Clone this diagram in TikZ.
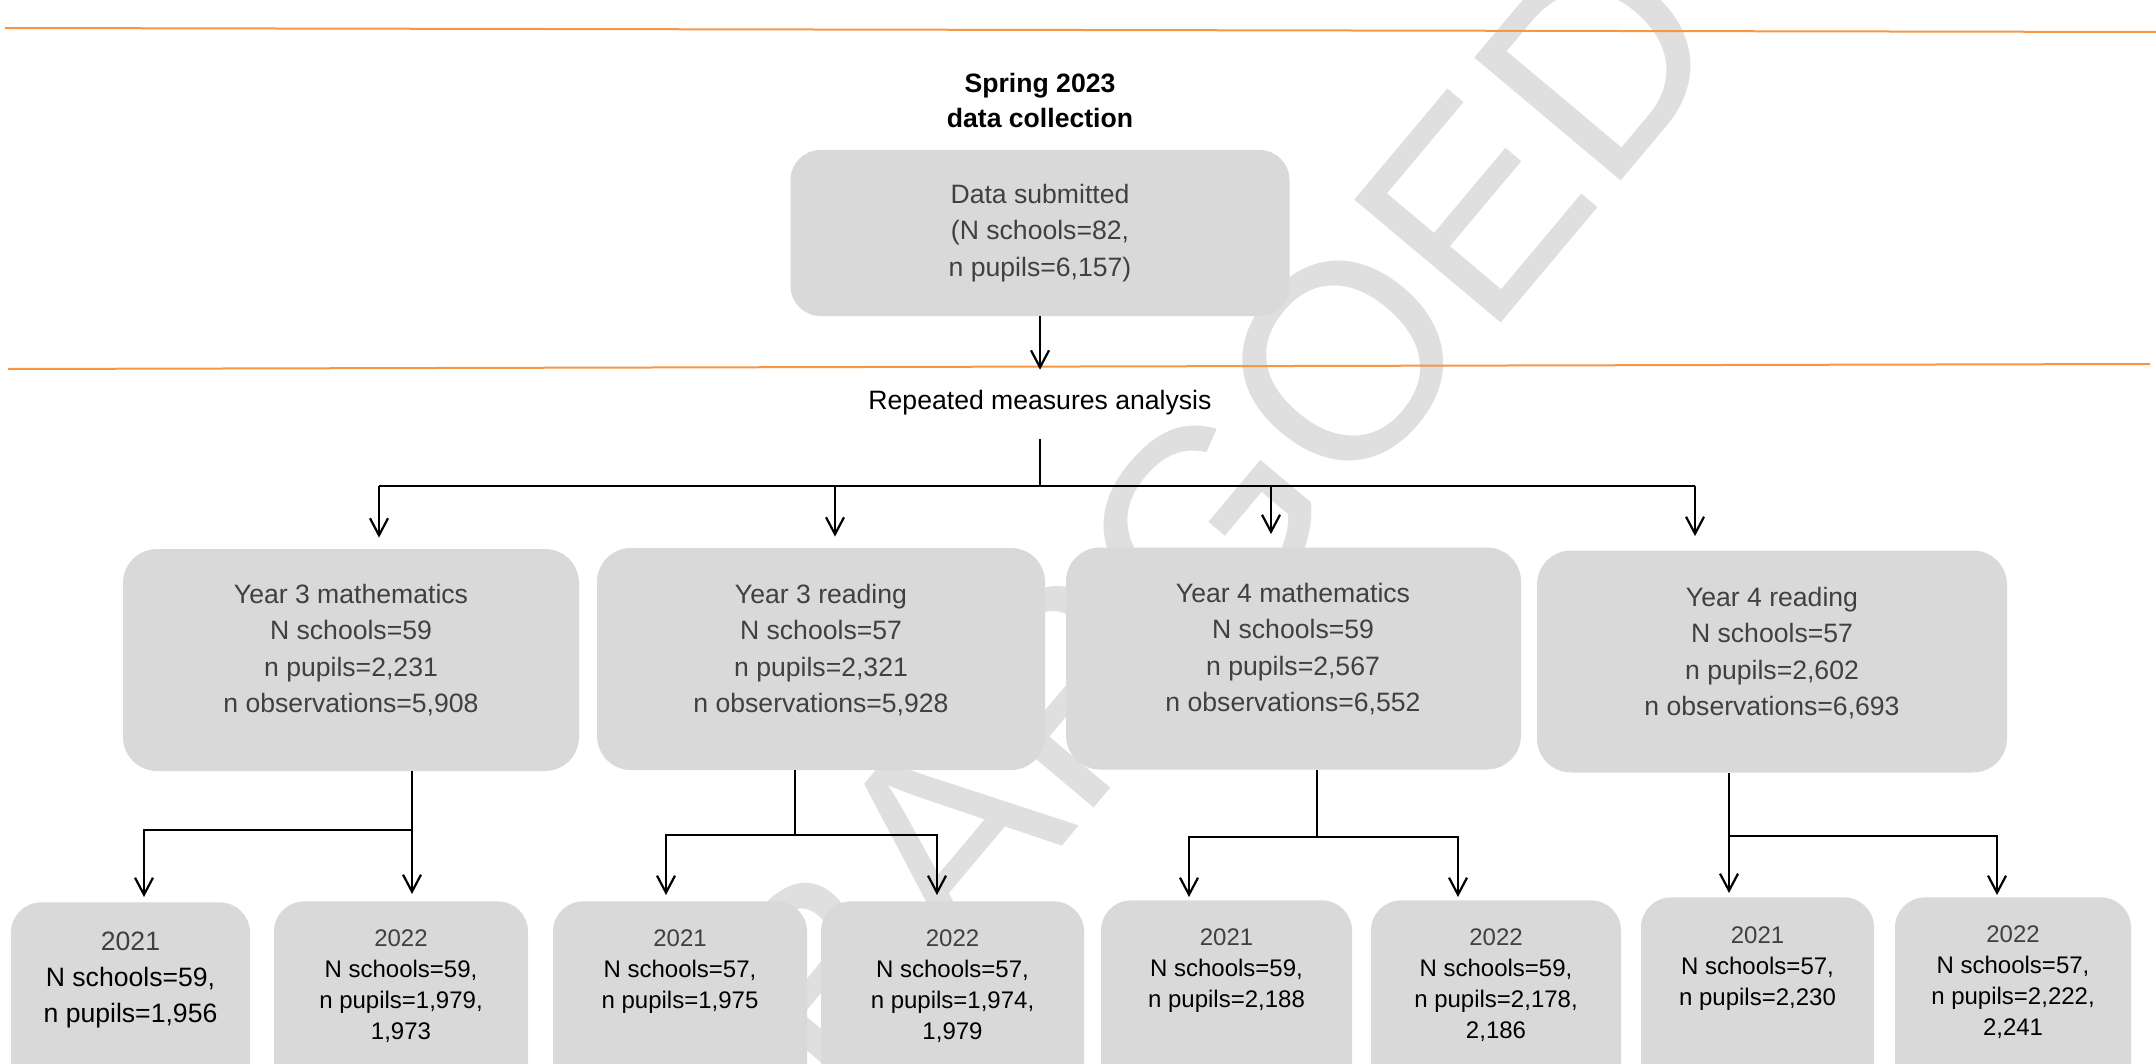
\documentclass[tikz,border=0pt]{standalone}
\usepackage{fontspec}
\setmainfont{Liberation Sans}
\usetikzlibrary{arrows.meta}

\definecolor{caixa}{rgb}{0.851,0.851,0.851}
\definecolor{cinzaTexto}{rgb}{0.251,0.251,0.251}
\definecolor{laranja}{rgb}{0.969,0.588,0.275}
\definecolor{marcaAgua}{rgb}{0.875,0.875,0.875}

\begin{document}
\begin{tikzpicture}[
        x=0.5pt, y=-0.5pt,
        boxMain/.style={rectangle, rounded corners=15pt, fill=caixa, inner sep=0pt},
        boxYear/.style={boxMain, rounded corners=17pt, minimum height=111pt},
        boxSmall/.style={boxMain, anchor=north, minimum height=100pt},
        txtMain/.style={inner sep=0pt, align=center, font=\fontsize{13.3}{18.3}\selectfont},
        txtSmall/.style={inner sep=0pt, align=center, anchor=north, font=\fontsize{12}{15.5}\selectfont},
        lineLink/.style={draw, line width=1.1pt},
        arrowDown/.style={lineLink, -{Straight Barb[length=8.5pt, width=9pt]}},
        ruleOrange/.style={draw=laranja, line width=1pt}
        ]
        \useasboundingbox (0,0) rectangle (2156,1064);
        \clip (0,0) rectangle (2156,1064);

        \node[text=marcaAgua, rotate=50, inner sep=0pt, font=\fontsize{139}{139}\selectfont] (marca) at (1081,675) {EMBARGOED}; % marca de agua

        \draw[ruleOrange] (5,28) -- (2156,32);
        \draw[ruleOrange] (8,369) -- (2150,364);

        \node[txtMain, font=\bfseries\fontsize{13.3}{17.5}\selectfont] (titulo) at (1040,100) {Spring 2023\\data collection};
        \node[boxMain, txtMain, text=cinzaTexto, minimum width=249.5pt, minimum height=83pt] (sub) at (1040,233) {Data submitted\\(N schools=82,\\n pupils=6,157)};
        \node[txtMain] (rma) at (1040,403) {Repeated measures analysis};

        % caixas do ano
        \node[boxYear, minimum width=228pt] (y3m) at (351,660) {};
        \node[boxYear, minimum width=224pt] (y3r) at (821,659) {};
        \node[boxYear, minimum width=227.5pt] (y4m) at (1293.5,658.5) {};
        \node[boxYear, minimum width=235pt] (y4r) at (1772,661.5) {};
        \node[txtMain, text=cinzaTexto] (y3mT) at (351,650) {Year 3 mathematics\\N schools=59\\n pupils=2,231\\n observations=5,908};
        \node[txtMain, text=cinzaTexto] (y3rT) at (821,650) {Year 3 reading\\N schools=57\\n pupils=2,321\\n observations=5,928};
        \node[txtMain, text=cinzaTexto] (y4mT) at (1293,649) {Year 4 mathematics\\N schools=59\\n pupils=2,567\\n observations=6,552};
        \node[txtMain, text=cinzaTexto] (y4rT) at (1772,653) {Year 4 reading\\N schools=57\\n pupils=2,602\\n observations=6,693};

        % caixas 2021 / 2022
        \node[boxSmall, minimum width=119.5pt] (m3a) at (130.5,902) {};
        \node[boxSmall, minimum width=127pt] (m3b) at (401,901) {};
        \node[boxSmall, minimum width=127pt] (r3a) at (680,901) {};
        \node[boxSmall, minimum width=131.5pt] (r3b) at (952.5,901) {};
        \node[boxSmall, minimum width=125.5pt] (m4a) at (1226.5,900) {};
        \node[boxSmall, minimum width=125pt] (m4b) at (1496,900) {};
        \node[boxSmall, minimum width=116.5pt] (r4a) at (1757.5,897) {};
        \node[boxSmall, minimum width=118pt] (r4b) at (2013,897) {};
        \node[txtSmall, font=\fontsize{13.3}{18}\selectfont] (m3aT) at (130.5,932) {\textcolor{cinzaTexto}{2021}\\N schools=59,\\n pupils=1,956};
        \node[txtSmall] (m3bT) at (401,929) {\textcolor{cinzaTexto}{2022}\\N schools=59,\\n pupils=1,979,\\1,973};
        \node[txtSmall] (r3aT) at (680,929) {\textcolor{cinzaTexto}{2021}\\N schools=57,\\n pupils=1,975};
        \node[txtSmall] (r3bT) at (952.5,929) {\textcolor{cinzaTexto}{2022}\\N schools=57,\\n pupils=1,974,\\1,979};
        \node[txtSmall] (m4aT) at (1226.5,928) {\textcolor{cinzaTexto}{2021}\\N schools=59,\\n pupils=2,188};
        \node[txtSmall] (m4bT) at (1496,928) {\textcolor{cinzaTexto}{2022}\\N schools=59,\\n pupils=2,178,\\2,186};
        \node[txtSmall] (r4aT) at (1757.5,926) {\textcolor{cinzaTexto}{2021}\\N schools=57,\\n pupils=2,230};
        \node[txtSmall] (r4bT) at (2013,925) {\textcolor{cinzaTexto}{2022}\\N schools=57,\\n pupils=2,222,\\2,241};

        \coordinate (fork) at (1040,486);
        \coordinate (d1) at (379,486);
        \coordinate (d2) at (835,486);
        \coordinate (d3) at (1271,486);
        \coordinate (d4) at (1695,486);

        \draw[arrowDown, shorten >=10.25pt] (sub) -- (rma);
        \draw[lineLink, shorten <=11.75pt] (rma.south) -- (fork);
        \draw[lineLink] (d1) -- (d4);
        \draw[arrowDown, shorten >=5.5pt] (d1) -- (d1 |- y3m.north);
        \draw[arrowDown, shorten >=5.5pt] (d2) -- (d2 |- y3r.north);
        \draw[arrowDown, shorten >=6.5pt] (d3) -- (d3 |- y4m.north);
        \draw[arrowDown, shorten >=7pt] (d4) -- (d4 |- y4r.north);

        \coordinate (j1) at (412,830);
        \coordinate (k1) at (144,830);
        \draw[arrowDown, shorten >=3.5pt] (j1 |- y3m.south) -- (j1 |- m3b.north);
        \draw[arrowDown, shorten >=2.5pt] (j1) -- (k1) -- (k1 |- m3a.north);

        \coordinate (j2) at (795,835);
        \coordinate (k2a) at (666,835);
        \coordinate (k2b) at (937,835);
        \draw[lineLink] (j2 |- y3r.south) -- (j2);
        \draw[arrowDown, shorten >=3pt] (j2) -- (k2a) -- (k2a |- r3a.north);
        \draw[arrowDown, shorten >=3pt] (j2) -- (k2b) -- (k2b |- r3b.north);

        \coordinate (j3) at (1317,837);
        \coordinate (k3a) at (1189,837);
        \coordinate (k3b) at (1458,837);
        \draw[lineLink] (j3 |- y4m.south) -- (j3);
        \draw[arrowDown, shorten >=1.5pt] (j3) -- (k3a) -- (k3a |- m4a.north);
        \draw[arrowDown, shorten >=1.5pt] (j3) -- (k3b) -- (k3b |- m4b.north);

        \coordinate (j4) at (1729,836);
        \coordinate (k4) at (1997,836);
        \draw[arrowDown, shorten >=2pt] (j4 |- y4r.south) -- (j4 |- r4a.north);
        \draw[arrowDown, shorten >=1pt] (j4) -- (k4) -- (k4 |- r4b.north);
    \end{tikzpicture}
\end{document}
